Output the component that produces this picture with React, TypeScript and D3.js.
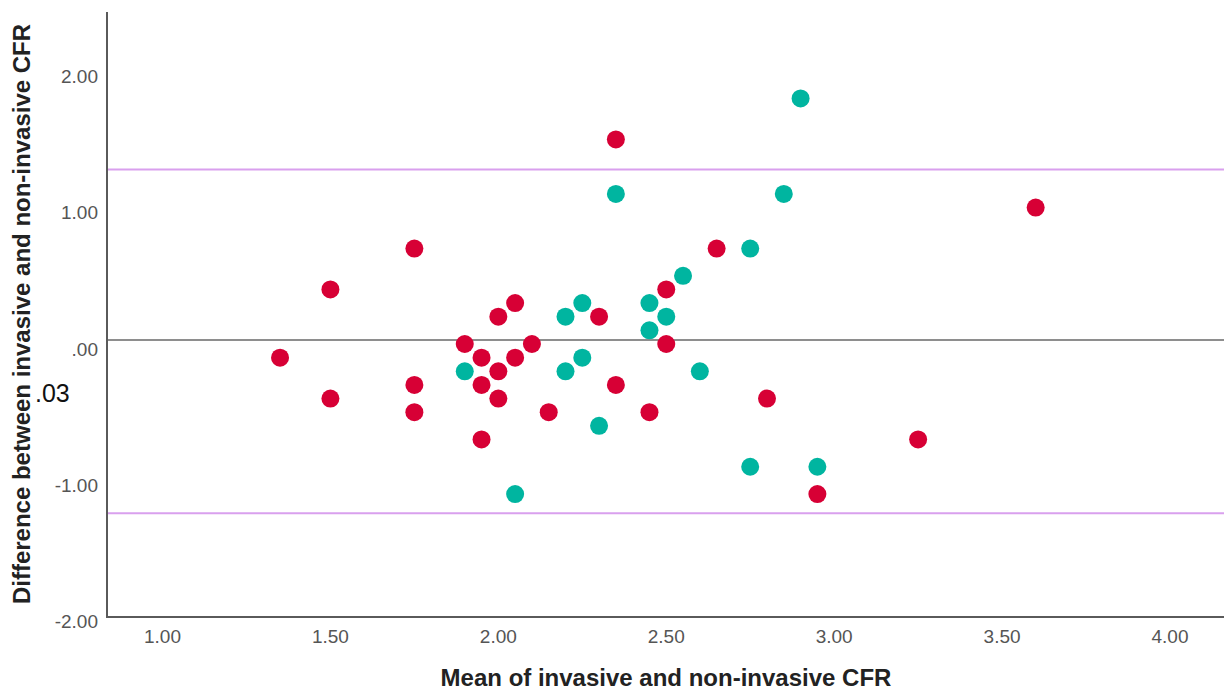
import React from "react";
import * as d3 from "d3";

const redX = [1.35, 1.5, 1.5, 1.75, 1.75, 1.75, 1.9, 1.95, 1.95, 1.95, 2.0, 2.0, 2.0, 2.05, 2.05, 2.1, 2.15, 2.3, 2.35, 2.35, 2.45, 2.5, 2.5, 2.65, 2.8, 2.95, 3.25, 3.6];
const redY = [-0.1, 0.4, -0.4, 0.7, -0.3, -0.5, 0.0, -0.1, -0.3, -0.7, 0.2, -0.2, -0.4, 0.3, -0.1, 0.0, -0.5, 0.2, 1.5, -0.3, -0.5, 0.4, 0.0, 0.7, -0.4, -1.1, -0.7, 1.0];
const tealX = [1.9, 2.05, 2.2, 2.2, 2.25, 2.25, 2.3, 2.35, 2.45, 2.45, 2.5, 2.55, 2.6, 2.75, 2.75, 2.85, 2.9, 2.95];
const tealY = [-0.2, -1.1, 0.2, -0.2, 0.3, -0.1, -0.6, 1.1, 0.3, 0.1, 0.2, 0.5, -0.2, 0.7, -0.9, 1.1, 1.8, -0.9];

const xTicks = [1.0, 1.5, 2.0, 2.5, 3.0, 3.5, 4.0];
const yTicks = [-2, -1, 0, 1, 2];
const meanDiff = 0.03;
const upperLoA = 1.28;
const lowerLoA = -1.24;

const xTitle = "Mean of invasive and non-invasive CFR";
const yTitle = "Difference between invasive and non-invasive CFR";
const meanLabel = ".03";

const fmt = (v: number) => {
  const s = v.toFixed(2);
  if (s.startsWith("0.")) return s.slice(1);
  if (s.startsWith("-0.")) return "-" + s.slice(2);
  return s;
};

export default function App() {
  const W = 1224, H = 692;
  const left = 107, right = 1224, top = 12, bottom = 617;
  const x = d3.scaleLinear().domain([1.0, 4.0]).range([162.5, 1170]);
  const y = d3.scaleLinear().domain([-2, 2]).range([616.8, 71.2]);
  const font = "'Liberation Sans', Arial, sans-serif";
  const red = "#D70035";
  const teal = "#00B5A0";
  return (
    <svg width={W} height={H} style={{ position: "absolute", left: 0, top: 0, background: "#fff" }}>
      <rect x={0} y={0} width={W} height={H} fill="#fff" />
      {/* reference lines */}
      <line x1={left} x2={right} y1={y(upperLoA)} y2={y(upperLoA)} stroke="#D9A0EE" strokeWidth={2} />
      <line x1={left} x2={right} y1={y(lowerLoA)} y2={y(lowerLoA)} stroke="#D9A0EE" strokeWidth={2} />
      <line x1={left} x2={right} y1={y(meanDiff)} y2={y(meanDiff)} stroke="#8E8E8E" strokeWidth={2} />
      {/* points */}
      {redX.map((v, i) => (
        <circle key={"r" + i} cx={x(v)} cy={y(redY[i])} r={9} fill={red} />
      ))}
      {tealX.map((v, i) => (
        <circle key={"t" + i} cx={x(v)} cy={y(tealY[i])} r={9} fill={teal} />
      ))}
      {/* axes */}
      <line x1={left} x2={left} y1={top} y2={bottom} stroke="#5A5A5A" strokeWidth={2} />
      <line x1={left - 1} x2={right} y1={bottom} y2={bottom} stroke="#5A5A5A" strokeWidth={2} />
      {yTicks.map((t) => (
        <text key={"yt" + t} x={98} y={y(t) + 5} dy="0.35em" textAnchor="end" fontFamily={font} fontSize={19} fill="#555">
          {fmt(t)}
        </text>
      ))}
      {xTicks.map((t) => (
        <text key={"xt" + t} x={x(t)} y={636} dy="0.35em" textAnchor="middle" fontFamily={font} fontSize={19} fill="#555">
          {fmt(t)}
        </text>
      ))}
      <text x={666} y={686} textAnchor="middle" fontFamily={font} fontSize={24} fontWeight="bold" fill="#222">
        {xTitle}
      </text>
      <text transform={`translate(22,314) rotate(-90)`} dy="0.35em" textAnchor="middle" fontFamily={font} fontSize={24} fontWeight="bold" fill="#222">
        {yTitle}
      </text>
      <text x={35} y={393} dy="0.35em" fontFamily={font} fontSize={25} fill="#111">
        {meanLabel}
      </text>
    </svg>
  );
}
